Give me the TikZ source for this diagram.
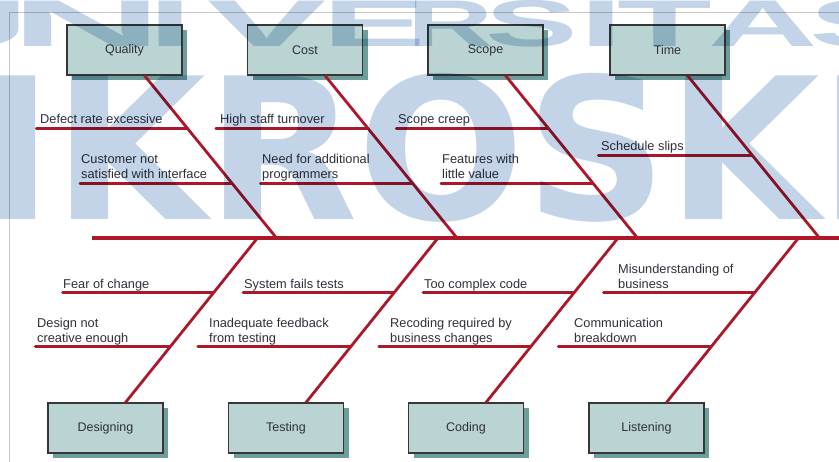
\documentclass[tikz,border=0pt]{standalone}
\usepackage{fontspec}
\setmainfont{Liberation Sans}
\newfontfamily\wmfont{DejaVu Sans}
\usetikzlibrary{shadows}

\definecolor{bonered}{RGB}{170,24,42}
\definecolor{boxfill}{RGB}{185,212,210}
\definecolor{boxshade}{RGB}{108,158,155}
\definecolor{boxline}{RGB}{55,55,55}
\definecolor{labeltext}{RGB}{48,48,58}
\definecolor{framegray}{RGB}{200,200,200}
\definecolor{wmblue}{RGB}{195,212,232}

\begin{document}
\begin{tikzpicture}[x=1pt,y=-1pt,
  cause/.style={draw=boxline, line width=1.1pt, fill=boxfill,
    minimum width=115pt, minimum height=50pt, inner sep=0pt,
    font=\fontsize{12.5}{15}\selectfont, text=labeltext,
    drop shadow={shadow xshift=5pt, shadow yshift=-5pt, fill=boxshade, opacity=1}},
  spine/.style={draw=bonered, line width=3.2pt},
  bone/.style={draw=bonered, line width=2.8pt},
  rib/.style={draw=bonered, line width=2.8pt, line cap=round},
  lbl/.style={anchor=base west, inner sep=0pt, align=left,
    font=\fontsize{12.8}{15}\selectfont, text=labeltext},
  wmthin/.style={text=wmblue, inner sep=0pt, anchor=base,
    font=\bfseries\fontsize{66}{66}\selectfont},
  wmthick/.style={text=wmblue, inner sep=0pt, anchor=base west,
    font=\wmfont\bfseries\fontsize{197}{197}\selectfont}
]
\useasboundingbox (0,0) rectangle (839,462);
\fill[white] (0,0) rectangle (839,462);

% page frame
\draw[framegray, line width=0.8pt] (839,12) -- (9,12) -- (9,462);

% spine
\coordinate (tail) at (92,238);
\coordinate (head) at (845,238);
\draw[spine] (tail) -- (head);

% upper categories
\node[cause] (q) at (124.5,50) {Quality};
\node[cause] (c) at (305,50)   {Cost};
\node[cause] (s) at (485.5,50) {Scope};
\node[cause] (t) at (667.5,50) {Time};

% lower categories
\node[cause] (d) at (105.5,428) {Designing};
\node[cause] (e) at (286,428)   {Testing};
\node[cause] (k) at (466,428)   {Coding};
\node[cause] (l) at (646.5,428) {Listening};

% points where the bones meet the spine
\coordinate (qs) at (276.5,238);
\coordinate (cs) at (457,238);
\coordinate (ss) at (637.5,238);
\coordinate (ts) at (819.5,238);
\coordinate (ds) at (257.5,238);
\coordinate (es) at (438,238);
\coordinate (ks) at (618,238);
\coordinate (ls) at (798.5,238);

% upper bones with rib anchors
\draw[bone] ([xshift=20pt]q.south) -- (qs) coordinate[pos=0.325] (q1) coordinate[pos=0.6626] (q2);
\draw[bone] ([xshift=20pt]c.south) -- (cs) coordinate[pos=0.325] (c1) coordinate[pos=0.6626] (c2);
\draw[bone] ([xshift=20pt]s.south) -- (ss) coordinate[pos=0.325] (s1) coordinate[pos=0.6626] (s2);
\draw[bone] ([xshift=20pt]t.south) -- (ts) coordinate[pos=0.4908] (t1);

% lower bones with rib anchors
\draw[bone] ([xshift=20pt]d.north) -- (ds) coordinate[pos=0.6667] (d1) coordinate[pos=0.3394] (d2);
\draw[bone] ([xshift=20pt]e.north) -- (es) coordinate[pos=0.6667] (e1) coordinate[pos=0.3394] (e2);
\draw[bone] ([xshift=20pt]k.north) -- (ks) coordinate[pos=0.6667] (k1) coordinate[pos=0.3394] (k2);
\draw[bone] ([xshift=20pt]l.north) -- (ls) coordinate[pos=0.6667] (l1) coordinate[pos=0.3394] (l2);

% ribs
\draw[rib] (q1) -- ++(-151,0);
\draw[rib] (q2) -- ++(-152,0);
\draw[rib] (c1) -- ++(-152,0);
\draw[rib] (c2) -- ++(-152,0);
\draw[rib] (s1) -- ++(-152,0);
\draw[rib] (s2) -- ++(-152,0);
\draw[rib] (t1) -- ++(-154,0);
\draw[rib] (d1) -- ++(-151,0);
\draw[rib] (d2) -- ++(-135,0);
\draw[rib] (e1) -- ++(-151,0);
\draw[rib] (e2) -- ++(-153,0);
\draw[rib] (k1) -- ++(-151,0);
\draw[rib] (k2) -- ++(-152,0);
\draw[rib] (l1) -- ++(-151,0);
\draw[rib] (l2) -- ++(-153,0);

% rib labels (anchored at the baseline of the last line)
\node[lbl] (tq1) at (40,124)  {Defect rate excessive};
\node[lbl] (tq2) at (81,179)  {Customer not\\satisfied with interface};
\node[lbl] (tc1) at (220,124) {High staff turnover};
\node[lbl] (tc2) at (262,179) {Need for additional\\programmers};
\node[lbl] (ts1) at (398,124) {Scope creep};
\node[lbl] (ts2) at (442,179) {Features with\\little value};
\node[lbl] (tt1) at (601,151) {Schedule slips};
\node[lbl] (td1) at (63,289)  {Fear of change};
\node[lbl] (td2) at (37,343)  {Design not\\creative enough};
\node[lbl] (te1) at (244,289) {System fails tests};
\node[lbl] (te2) at (209,343) {Inadequate feedback\\from testing};
\node[lbl] (tk1) at (424,289) {Too complex code};
\node[lbl] (tk2) at (390,343) {Recoding required by\\business changes};
\node[lbl] (tl1) at (618,289) {Misunderstanding of\\business};
\node[lbl] (tl2) at (574,343) {Communication\\breakdown};

% watermark
\begin{scope}[blend mode=multiply]
  \clip (0,0) rectangle (839,462);
  \foreach \cx/\sx/\ch in {-32/2.55/U, 87/3.2/N, 171/2.4/I, 267/2.7/V,
      374/2.35/E, 450/1.8/R, 532/2.1/S, 601/2.4/I, 665/2.35/T, 763/2.3/A, 860/2.3/S}
    \node[wmthin] (wm-\cx) at (\cx,47) {\scalebox{\sx}[1]{\ch}};
  \node[wmthick] (wmname) at (-216,220) {MIKROSKIL};
\end{scope}
\end{tikzpicture}
\end{document}
